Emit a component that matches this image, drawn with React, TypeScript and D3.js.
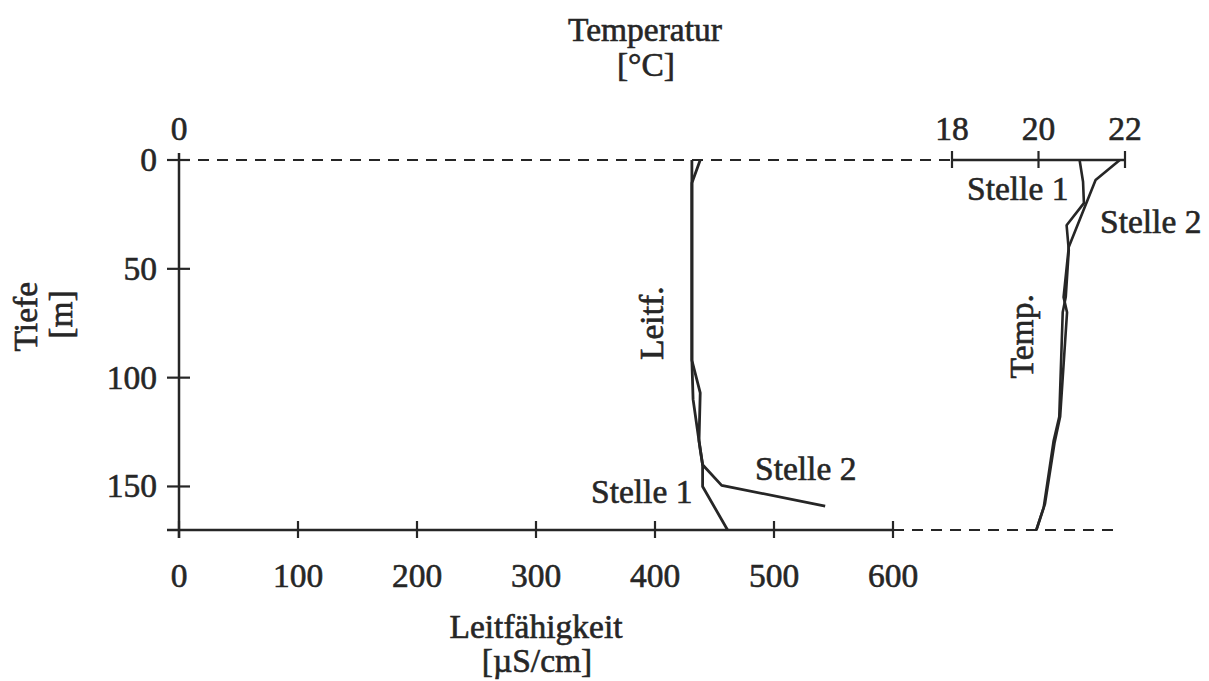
import React from 'react';
import * as d3 from 'd3';

// depth axis / conductivity axis / temperature axis ticks
const depthTicks = [0, 50, 100, 150];
const leitTicks = [0, 100, 200, 300, 400, 500, 600];
const tempTicks = [18, 20, 22];

// conductivity profiles [depth m, µS/cm]
const leitStelle1: [number, number][] = [
  [0, 431], [92, 431], [110, 432], [133, 438], [140, 440], [150, 440], [170, 461],
];
const leitStelle2: [number, number][] = [
  [0, 438], [10.6, 431], [92, 431], [107, 438], [129, 437], [140, 440], [149.5, 456], [159, 543],
];

// temperature profiles [depth m, °C]
const tempStelle1: [number, number][] = [
  [0, 20.95], [10, 21.03], [19.8, 21.05], [30, 20.65], [41.4, 20.7], [63, 20.63], [70, 20.56],
  [118, 20.48], [129, 20.35], [159.6, 20.12], [170, 19.95],
];
const tempStelle2: [number, number][] = [
  [0, 21.88], [9.2, 21.32], [40, 20.7], [63, 20.58], [70, 20.66], [118, 20.5],
  [130, 20.37], [158, 20.15], [170, 19.95],
];

const W = 1209;
const H = 681;
const ink = '#262626';
const font = '"Liberation Serif", "Times New Roman", serif';
const fs = 33.5;

export default function App() {
  const y = d3.scaleLinear().domain([0, 170]).range([160, 530]);
  const xL = d3.scaleLinear().domain([0, 600]).range([179, 893]);
  const xT = d3.scaleLinear().domain([18, 22]).range([952, 1125]);

  const leitLine = d3.line<[number, number]>().x(d => xL(d[1])).y(d => y(d[0]));
  const tempLine = d3.line<[number, number]>().x(d => xT(d[1])).y(d => y(d[0]));

  const y0 = y(0);
  const yB = y(170);

  return (
    <svg width={W} height={H} style={{ position: 'absolute', left: 0, top: 0, background: '#fff' }}
      fontFamily={font}>
      <rect width={W} height={H} fill="#fff" />

      <g fill={ink} stroke={ink} strokeWidth={0.6} fontSize={fs}>
        {/* titles */}
        <text x={645} y={41} textAnchor="middle">Temperatur</text>
        <text x={646} y={76} textAnchor="middle">[°C]</text>
        <text x={536} y={638} textAnchor="middle">Leitfähigkeit</text>
        <text x={537} y={672} textAnchor="middle">[µS/cm]</text>
        <text transform={`translate(37,${y(72)}) rotate(-90)`} textAnchor="middle">Tiefe</text>
        <text transform={`translate(72,${y(71)}) rotate(-90)`} textAnchor="middle">[m]</text>

        {tempTicks.map(t => (
          <text key={'tl' + t} x={xT(t)} y={140} textAnchor="middle">{t}</text>
        ))}
        <text x={xL(0)} y={140} textAnchor="middle">0</text>
        {depthTicks.map(d => (
          <text key={'dl' + d} x={157} y={y(d) + 11} textAnchor="end">{d}</text>
        ))}
        {leitTicks.map(v => (
          <text key={'ll' + v} x={xL(v)} y={587} textAnchor="middle">{v}</text>
        ))}

        {/* annotations */}
        <text transform={`translate(663,${y(75)}) rotate(-90)`} textAnchor="middle">Leitf.</text>
        <text transform={`translate(1033,${y(81)}) rotate(-90)`} textAnchor="middle">Temp.</text>
        <text x={967} y={200}>Stelle 1</text>
        <text x={1100} y={233}>Stelle 2</text>
        <text x={755} y={480}>Stelle 2</text>
        <text x={591} y={503}>Stelle 1</text>
      </g>

      {/* top axis: dashed from 0 to 18, solid 18..22 */}
      <line x1={xL(0)} x2={xT(18)} y1={y0} y2={y0} stroke={ink} strokeWidth={2.2} strokeDasharray="11,8" />
      <line x1={xT(18)} x2={xT(22)} y1={y0} y2={y0} stroke={ink} strokeWidth={2.5} />
      {tempTicks.map(t => (
        <line key={'tt' + t} x1={xT(t)} x2={xT(t)} y1={y0 - 9} y2={y0 + 8} stroke={ink} strokeWidth={2.2} />
      ))}

      {/* left depth axis */}
      <line x1={xL(0)} x2={xL(0)} y1={y0 - 7} y2={yB + 8} stroke={ink} strokeWidth={2.5} />
      {depthTicks.map(d => (
        <line key={'d' + d} x1={xL(0) - 12} x2={xL(0) + 11} y1={y(d)} y2={y(d)} stroke={ink} strokeWidth={2.2} />
      ))}

      {/* bottom conductivity axis */}
      <line x1={xL(0) - 12} x2={xL(600)} y1={yB} y2={yB} stroke={ink} strokeWidth={2.5} />
      <line x1={xL(600)} x2={1120} y1={yB} y2={yB} stroke={ink} strokeWidth={2.2} strokeDasharray="11,8" />
      {leitTicks.map(v => (
        <line key={'l' + v} x1={xL(v)} x2={xL(v)} y1={yB - 9} y2={yB + 8} stroke={ink} strokeWidth={2.2} />
      ))}

      {/* profiles */}
      <path d={leitLine(leitStelle1) || ''} fill="none" stroke={ink} strokeWidth={2.8} strokeLinejoin="round" />
      <path d={leitLine(leitStelle2) || ''} fill="none" stroke={ink} strokeWidth={2.8} strokeLinejoin="round" />
      <path d={tempLine(tempStelle1) || ''} fill="none" stroke={ink} strokeWidth={2.6} strokeLinejoin="round" />
      <path d={tempLine(tempStelle2) || ''} fill="none" stroke={ink} strokeWidth={2.6} strokeLinejoin="round" />
    </svg>
  );
}
